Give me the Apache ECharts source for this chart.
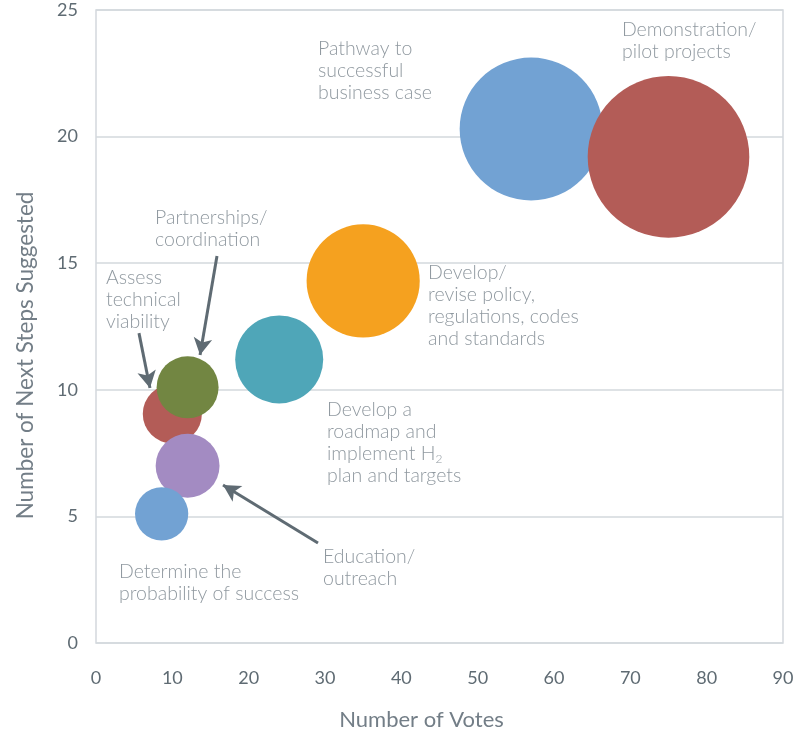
<!DOCTYPE html>
<html><head><meta charset="utf-8">
<script src="https://cdn.jsdelivr.net/npm/echarts@6/dist/echarts.min.js"></script>
<style>html,body{margin:0;padding:0;background:#fff}#c{width:797px;height:732px}</style>
</head><body><div id="c"></div>
<script>
// Bubble data
const names = ["Demonstration/pilot projects","Pathway to successful business case","Develop/revise policy, regulations, codes and standards","Develop a roadmap and implement H2 plan and targets","Partnerships/coordination","Assess technical viability","Education/outreach","Determine the probability of success"];
const votes = [75, 57, 35, 24, 12, 10, 12, 8.6];
const nextSteps = [19.2, 20.3, 14.3, 11.2, 10.1, 9.05, 7.0, 5.1];
const bubbleSize = [75.5, 59, 37, 22.4, 11.1, 10.1, 11.8, 8.2];
const colors = ["#B35C57","#72A2D3","#F5A11F","#4FA6B8","#728642","#B35C57","#A38BC2","#72A2D3"];
const drawOrder = [1,0,2,3,5,4,6,7];

// Tick settings
const xMin = 0, xMax = 90, xStep = 10;
const yMin = 0, yMax = 25, yStep = 5;

// Annotations (anchor = top-left of text, in data units)
const noteText = [
  ["Demonstration/","pilot projects"],
  ["Pathway to","successful","business case"],
  ["Develop/","revise policy,","regulations, codes","and standards"],
  ["Develop a","roadmap and","implement H{sub|2}","plan and targets"],
  ["Partnerships/","coordination"],
  ["Assess","technical","viability"],
  ["Education/","outreach"],
  ["Determine the","probability of success"]
];
const noteX = [68.9, 29.08, 43.5, 30.26, 7.73, 1.31, 29.74, 3.01];
const noteY = [24.64, 23.89, 15.05, 9.64, 17.22, 14.85, 3.83, 3.24];

// Arrows [fromX, fromY, toX, toY] in data units
const arrows = [
  [15.85, 15.28, 13.63, 11.37],
  [5.63, 12.24, 7.07, 10.07],
  [29.08, 3.95, 16.64, 6.24]
];

const textColor = "#737e87";
const FONT = "Lato";

const bubbleSeries = drawOrder.map(i => ({
  type: "scatter",
  name: names[i],
  data: [[votes[i], nextSteps[i], bubbleSize[i]]],
  symbolSize: d => 2 * 9.3 * Math.sqrt(d[2]),
  itemStyle: { color: colors[i], opacity: 1 },
  z: 3,
  silent: true
}));

const noteSeries = {
  type: "scatter",
  data: noteText.map((t, i) => ({ value: [noteX[i], noteY[i]], label: { formatter: t.join("\n") } })),
  symbolSize: 0,
  z: 5,
  silent: true,
  label: {
    show: true, position: [0, 0], align: "left", verticalAlign: "top",
    color: textColor, fontFamily: FONT, fontWeight: 300, fontSize: 19.5, lineHeight: 22,
    rich: { sub: { fontSize: 12, verticalAlign: "bottom", lineHeight: 12, color: textColor, fontFamily: FONT, fontWeight: 300 } }
  },
  markLine: {
    silent: true,
    symbol: ["none", "arrow"],
    symbolSize: [14, 17],
    lineStyle: { color: "#5f6b73", width: 3, type: "solid" },
    label: { show: false },
    data: arrows.map(a => [{ coord: [a[0], a[1]] }, { coord: [a[2], a[3]] }])
  }
};

const chart = echarts.init(document.getElementById("c"), null, { renderer: "canvas" });
chart.setOption({
  animation: false,
  grid: { left: 96, right: 14, top: 10, bottom: 89, outerBoundsMode: "none", containLabel: false, show: true, borderColor: "#d3d8dd", borderWidth: 1.5 },
  xAxis: {
    type: "value", min: xMin, max: xMax, interval: xStep,
    name: "Number of Votes", nameLocation: "middle", nameGap: 66,
    nameTextStyle: { color: textColor, fontFamily: FONT, fontSize: 22, padding: [0, 36, 0, 0] },
    axisLine: { show: false }, axisTick: { show: false },
    splitLine: { show: false },
    axisLabel: { color: "#5f6b73", fontFamily: FONT, fontSize: 18, margin: 26 }
  },
  yAxis: {
    type: "value", min: yMin, max: yMax, interval: yStep,
    name: "Number of Next Steps Suggested", nameLocation: "middle", nameGap: 59, nameRotate: 90,
    nameTextStyle: { color: textColor, fontFamily: FONT, fontSize: 22.5, padding: [0, 58, 0, 0] },
    axisLine: { show: false }, axisTick: { show: false },
    splitLine: { show: true, lineStyle: { color: "#d3d8dd", width: 1.5 } },
    axisLabel: { color: "#5f6b73", fontFamily: FONT, fontSize: 18, margin: 18 }
  },
  series: [...bubbleSeries, noteSeries]
});
</script>
</body></html>
